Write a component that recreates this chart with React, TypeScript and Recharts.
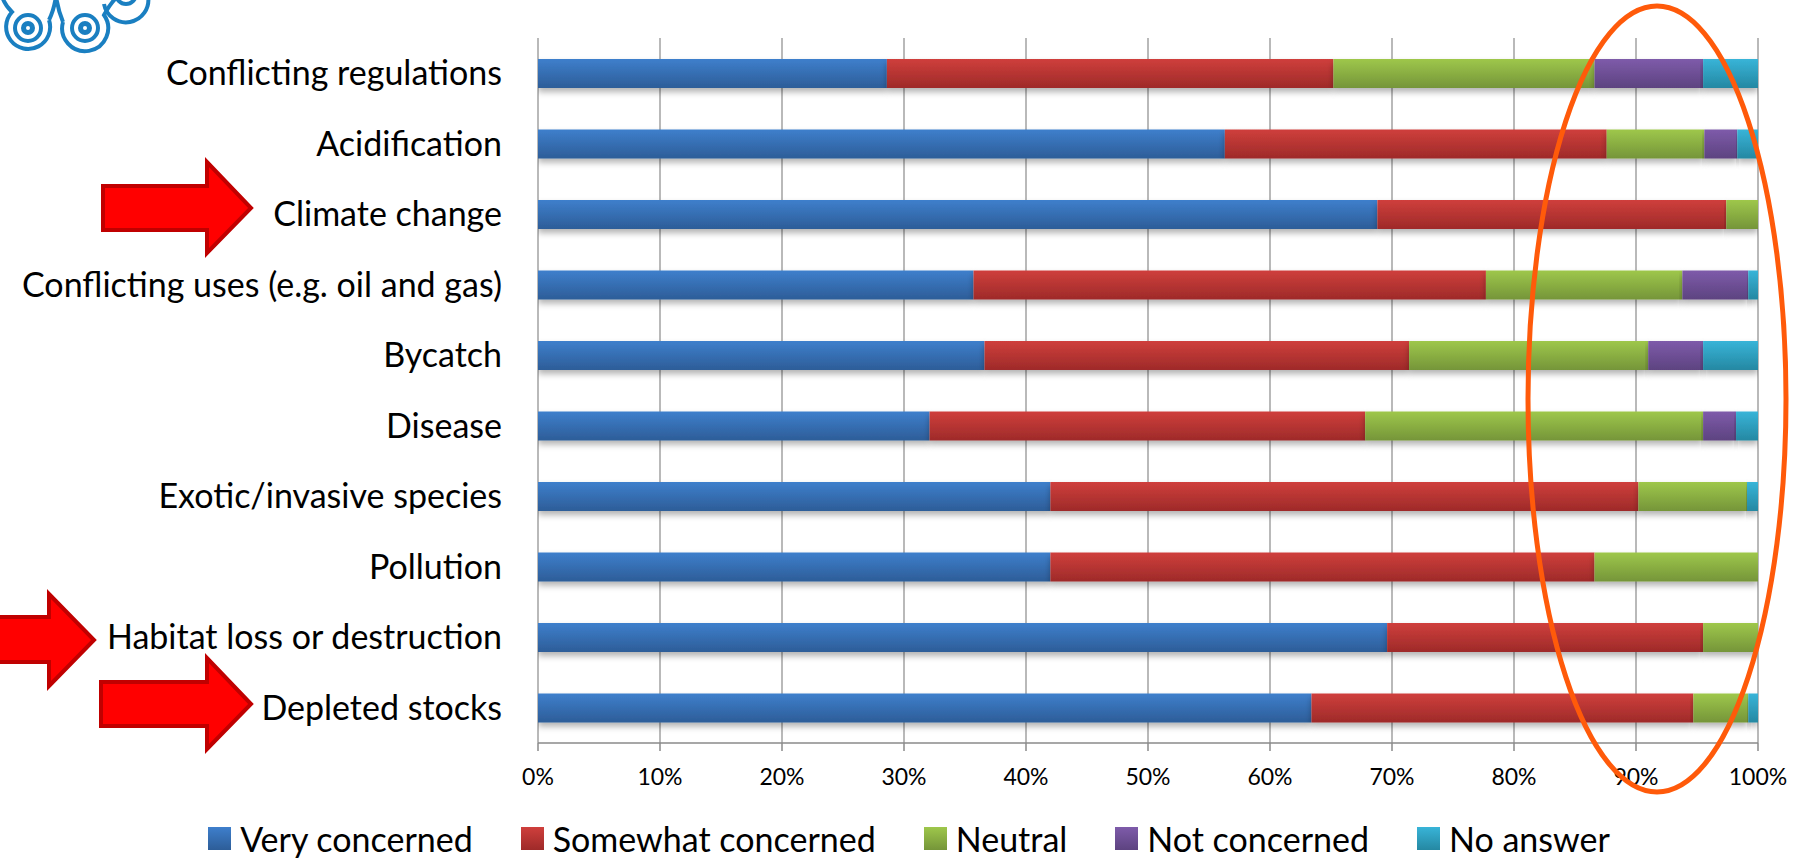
import React from 'react';
import { BarChart, Bar, XAxis, YAxis, CartesianGrid, Legend } from 'recharts';

// survey categories, top to bottom as shown
const categories = [
  'Conflicting regulations',
  'Acidification',
  'Climate change',
  'Conflicting uses (e.g. oil and gas)',
  'Bycatch',
  'Disease',
  'Exotic/invasive species',
  'Pollution',
  'Habitat loss or destruction',
  'Depleted stocks',
];

// share of answers, in %
const veryConcerned = [28.6, 56.3, 68.8, 35.7, 36.6, 32.1, 42.0, 42.0, 69.6, 63.4];
const somewhatConcerned = [36.6, 31.3, 28.6, 42.0, 34.8, 35.7, 48.2, 44.6, 25.9, 31.3];
const neutral = [21.4, 8.0, 2.7, 16.1, 19.6, 27.7, 8.9, 13.4, 4.5, 4.5];
const notConcerned = [8.9, 2.7, 0, 5.4, 4.5, 2.7, 0, 0, 0, 0];
const noAnswer = [4.5, 1.8, 0, 0.9, 4.5, 1.8, 0.9, 0, 0, 0.9];

const xTicks = [0, 10, 20, 30, 40, 50, 60, 70, 80, 90, 100];
const boundaryTicks = [0, 1, 2, 3, 4, 5, 6, 7, 8, 9, 10];

const data = categories.map((name, i) => ({
  name,
  very: veryConcerned[i],
  somewhat: somewhatConcerned[i],
  neutral: neutral[i],
  notc: notConcerned[i],
  none: noAnswer[i],
}));

const series = [
  { key: 'very', name: 'Very concerned', top: '#3E7FCC', bottom: '#2D5D98' },
  { key: 'somewhat', name: 'Somewhat concerned', top: '#CF3F3C', bottom: '#9E2A29' },
  { key: 'neutral', name: 'Neutral', top: '#9EC74B', bottom: '#759539' },
  { key: 'notc', name: 'Not concerned', top: '#7E5BAA', bottom: '#5D4380' },
  { key: 'none', name: 'No answer', top: '#38B4D8', bottom: '#2588A2' },
];

const axisGrey = '#8a8a8a';

// legend keeps the series order (recharts would sort it by name)
const renderLegend = () => (
  <div
    style={{
      display: 'flex',
      justifyContent: 'center',
      alignItems: 'center',
      gap: 48,
      height: 40,
      fontSize: 34,
      color: '#000',
      paddingLeft: 12,
    }}
  >
    {series.map((s) => (
      <div key={s.key} style={{ display: 'flex', alignItems: 'center' }}>
        <svg width={23} height={23} style={{ marginRight: 9 }}>
          <rect width={23} height={23} fill={`url(#grad-${s.key})`} />
        </svg>
        <span>{s.name}</span>
      </div>
    ))}
  </div>
);

const Arrow = ({ pts }: { pts: string }) => (
  <polygon points={pts} fill="#FF0000" stroke="#C00000" strokeWidth={4} strokeLinejoin="miter" />
);

export default function App() {
  return (
    <div style={{ position: 'relative', width: 1806, height: 858, fontFamily: 'Lato, sans-serif', background: '#fff' }}>
      <style>{`body{margin:0} .recharts-bar-rectangle path{filter:url(#barShadow)}`}</style>
      <BarChart
        width={1806}
        height={858}
        data={data}
        layout="vertical"
        margin={{ top: 38, right: 48, bottom: 0, left: 0 }}
      >
        <defs>
          {series.map((s) => (
            <linearGradient key={s.key} id={`grad-${s.key}`} x1="0" y1="0" x2="0" y2="1">
              <stop offset="0%" stopColor={s.top} />
              <stop offset="100%" stopColor={s.bottom} />
            </linearGradient>
          ))}
          <filter id="barShadow" x="-5%" y="-20%" width="110%" height="160%">
            <feDropShadow dx="0" dy="4" stdDeviation="3" floodColor="#000" floodOpacity="0.3" />
          </filter>
        </defs>
        <CartesianGrid yAxisId="cat" horizontal={false} stroke={axisGrey} strokeWidth={1.2} />
        <XAxis
          type="number"
          domain={[0, 100]}
          ticks={xTicks}
          interval={0}
          allowDataOverflow
          tickFormatter={(v: number) => `${v}%`}
          height={75}
          tickSize={8}
          tickMargin={18}
          axisLine={{ stroke: axisGrey, strokeWidth: 1.5 }}
          tickLine={{ stroke: axisGrey, strokeWidth: 1.5 }}
          tick={{ fill: '#000', fontSize: 23 }}
        />
        <YAxis
          yAxisId="cat"
          type="category"
          dataKey="name"
          width={538}
          interval={0}
          axisLine={false}
          tickLine={false}
          tickSize={10}
          tickMargin={26}
          tick={{ fill: '#000', fontSize: 34 }}
        />
        <YAxis
          yAxisId="bounds"
          type="number"
          domain={[0, 10]}
          ticks={boundaryTicks}
          interval={0}
          width={0}
          tick={false}
          tickSize={10}
          axisLine={{ stroke: axisGrey, strokeWidth: 1.5 }}
          tickLine={{ stroke: axisGrey, strokeWidth: 1.5 }}
        />
        <Legend
          verticalAlign="bottom"
          content={renderLegend}
          wrapperStyle={{ left: 0, width: 1806, height: 40 }}
        />
        {series.map((s) => (
          <Bar
            key={s.key}
            yAxisId="cat"
            dataKey={s.key}
            name={s.name}
            stackId="a"
            barSize={29}
            fill={`url(#grad-${s.key})`}
            isAnimationActive={false}
          />
        ))}
      </BarChart>

      {/* slide annotations: logo, arrows, highlight ellipse */}
      <svg
        width={1806}
        height={858}
        style={{ position: 'absolute', left: 0, top: 0, pointerEvents: 'none' }}
      >
        <g fill="none" stroke="#1A7FC1" strokeWidth={4}>
          <circle cx={28} cy={28} r={4.5} strokeWidth={5} />
          <circle cx={28} cy={28} r={13} />
          <path d="M 49 20 A 22 22 0 1 1 12 12 Q 4 4 2 -4" />
          <path d="M 49 20 Q 54 10 56 -4" />
          <circle cx={85} cy={28} r={4.5} strokeWidth={5} />
          <circle cx={85} cy={28} r={13} />
          <path d="M 63 22 A 23 23 0 1 0 104 15 Q 110 4 116 -2" />
          <path d="M 63 22 Q 58 10 56 -4" />
          <circle cx={126} cy={-6} r={10} />
          <path d="M 104 4 A 22 22 0 0 0 148 -4" />
        </g>
        <Arrow pts="103,186 207,186 207,162 251,208 207,253 207,230 103,230" />
        <Arrow pts="-10,617 49,617 49,594 94,640 49,686 49,662 -10,662" />
        <Arrow pts="101,682 207,682 207,658 251,704 207,749 207,726 101,726" />
        <ellipse cx={1657} cy={399} rx={129} ry={393} fill="none" stroke="#FF5A0A" strokeWidth={5} />
      </svg>
    </div>
  );
}
